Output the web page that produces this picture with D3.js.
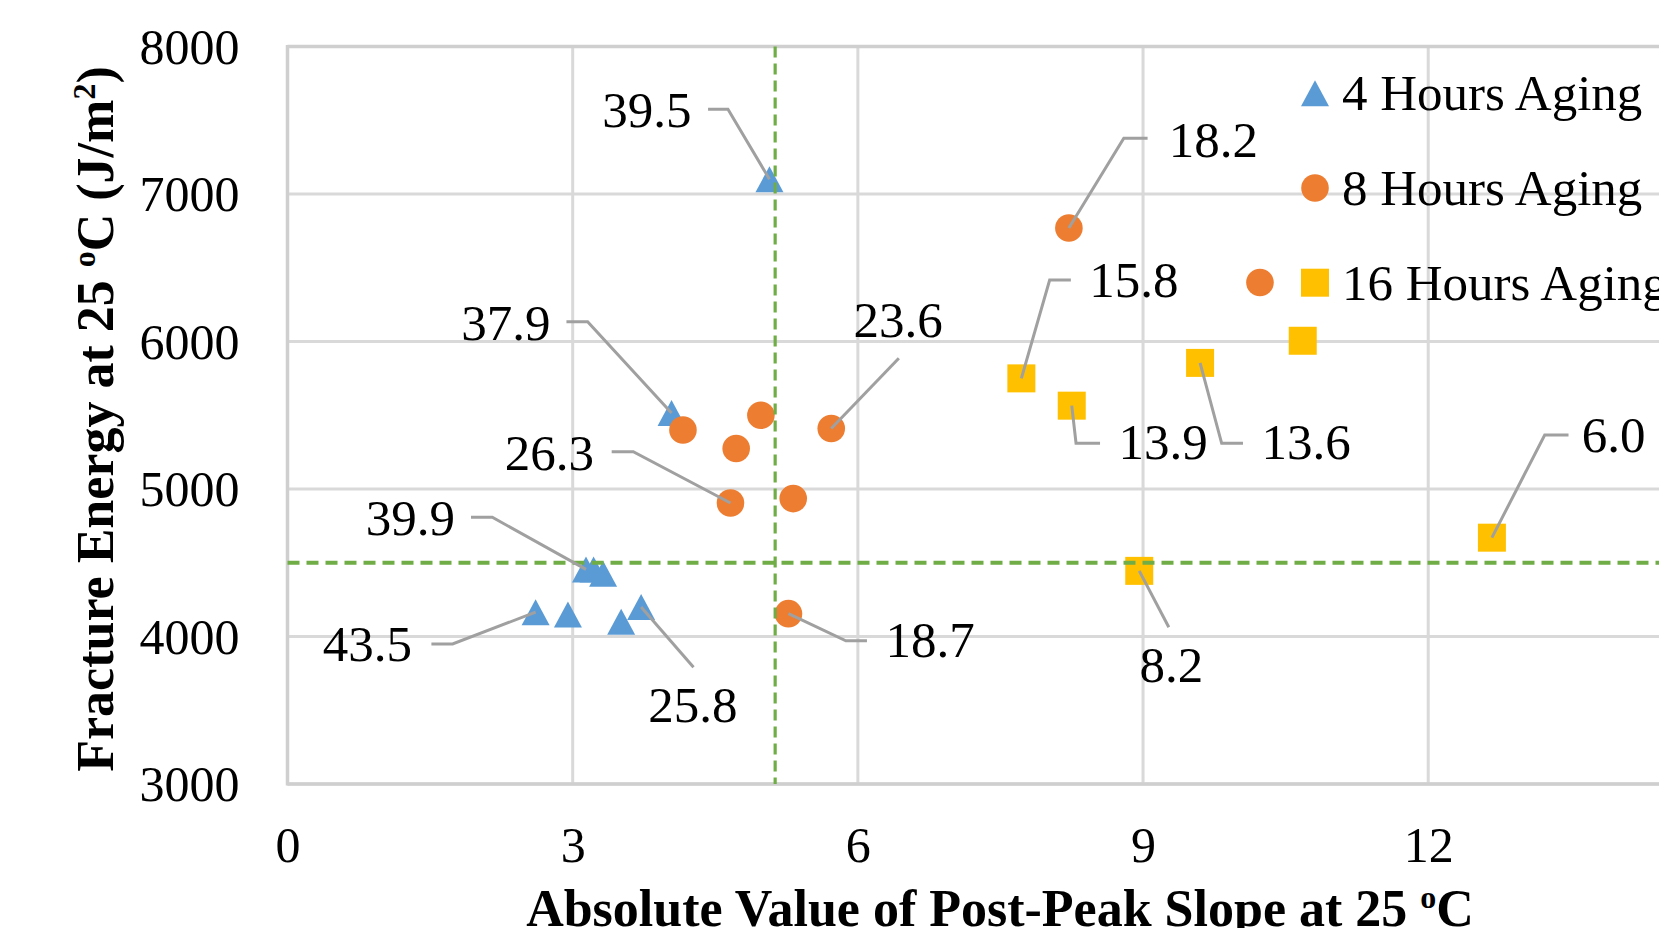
<!DOCTYPE html>
<html><head><meta charset="utf-8">
<script src="https://cdn.jsdelivr.net/npm/d3@7"></script>
<style>html,body{margin:0;padding:0;background:#fff;overflow:hidden}</style>
</head><body><svg id="chart" width="1659" height="928"></svg>
<script>
// ---------- data ----------
const seriesNames = ["4 Hours Aging", "8 Hours Aging", "16 Hours Aging"];
const slope4h  = [5.07, 4.04, 3.14, 3.22, 3.32, 2.61, 2.95, 3.51, 3.72];
const energy4h = [7100, 5515, 4455, 4455, 4425, 4165, 4150, 4100, 4200];
const labels4h = ["39.5", "37.9", "39.9", "", "", "43.5", "", "", "25.8"];
const slope8h  = [8.22, 4.16, 4.72, 4.98, 5.72, 4.66, 5.32, 5.27, 10.23];
const energy8h = [6770, 5400, 5275, 5500, 5410, 4905, 4935, 4155, 6400];
const labels8h = ["18.2", "", "", "", "23.6", "26.3", "", "18.7", ""];
const slope16h  = [7.72, 8.25, 9.60, 10.68, 8.96, 12.67];
const energy16h = [5750, 5565, 5855, 6005, 4445, 4670];
const labels16h = ["15.8", "13.9", "13.6", "", "8.2", "6.0"];
const xTicks = [0, 3, 6, 9, 12];
const xGrid = [0, 3, 6, 9, 12, 15];
const yTicks = [3000, 4000, 5000, 6000, 7000, 8000];
const thresholdSlope = 5.13;
const thresholdEnergy = 4500;
const xTitle = "Absolute Value of Post-Peak Slope at 25 ";
const yTitle = "Fracture Energy at 25 ";

// ---------- layout / style ----------
const plot = {left: 287.5, right: 1713.4, top: 46.5, bottom: 784};
const colors = ["#5b9bd5", "#ed7d31", "#ffc000"];
const shapes = ["triangle", "circle", "square"];
const FONT = "'Liberation Serif', 'Times New Roman', serif";

// label placement relative to its point (pixels)
const labelLayout = {
  "39.5": {anchor: "end",    tx: -78,  ty: -52,  leg: [[-41.5, -70], [-61.4, -70]]},
  "37.9": {anchor: "end",    tx: -121, ty: -73,  leg: [[-83.9, -91.3], [-105.1, -91.3]]},
  "39.9": {anchor: "end",    tx: -131, ty: -34.7, leg: [[-93.7, -52.1], [-115, -52.1]]},
  "43.5": {anchor: "end",    tx: -123.6, ty: 48.5, leg: [[-83, 31.8], [-104.2, 31.8]]},
  "25.8": {anchor: "middle", tx: 51.7, ty: 115.3, leg: [[52.4, 60.3]]},
  "26.3": {anchor: "end",    tx: -136.5, ty: -33, leg: [[-97.2, -51.3], [-118.8, -51.3]]},
  "23.6": {anchor: "middle", tx: 66.8, ty: -91.8, leg: [[67.6, -70.2]]},
  "18.7": {anchor: "start",  tx: 97.1, ty: 43.7, leg: [[57.4, 27.1], [78.5, 27.1]]},
  "18.2": {anchor: "start",  tx: 99.9, ty: -71.2, leg: [[54.9, -89.6], [78.7, -89.6]]},
  "15.8": {anchor: "start",  tx: 68,   ty: -81.7, leg: [[28.3, -98.4], [49.5, -98.4]]},
  "13.9": {anchor: "start",  tx: 46.8, ty: 53.6, leg: [[4.3, 37.6], [28.3, 37.6]]},
  "13.6": {anchor: "start",  tx: 61.3, ty: 96.4, leg: [[21.6, 80.4], [42.9, 80.4]]},
  "8.2":  {anchor: "middle", tx: 32.2, ty: 111.4, leg: [[29.6, 56.4]]},
  "6.0":  {anchor: "start",  tx: 89.8, ty: -86, leg: [[52.8, -102.7], [76.6, -102.7]]}
};

const svg = d3.select("#chart");
const x = d3.scaleLinear().domain([0, 15]).range([plot.left, plot.right]);
const y = d3.scaleLinear().domain([3000, 8000]).range([plot.bottom, plot.top]);

// gridlines
const grid = svg.append("g");
grid.selectAll("line.h").data(yTicks).join("line")
  .attr("x1", plot.left).attr("x2", plot.right)
  .attr("y1", d => y(d)).attr("y2", d => y(d))
  .attr("stroke", "#d9d9d9").attr("stroke-width", 3);
grid.selectAll("line.v").data(xGrid).join("line")
  .attr("y1", plot.top).attr("y2", plot.bottom)
  .attr("x1", d => x(d)).attr("x2", d => x(d))
  .attr("stroke", "#d9d9d9").attr("stroke-width", 3);
// axis lines
svg.append("line").attr("x1", x(0)).attr("x2", x(0)).attr("y1", plot.top - 1.5).attr("y2", plot.bottom + 1.5)
  .attr("stroke", "#cfcfcf").attr("stroke-width", 3.5);
svg.append("line").attr("x1", plot.left).attr("x2", plot.right).attr("y1", y(3000)).attr("y2", y(3000))
  .attr("stroke", "#cfcfcf").attr("stroke-width", 3.5);
svg.append("line").attr("x1", plot.left).attr("x2", plot.right).attr("y1", y(8000)).attr("y2", y(8000))
  .attr("stroke", "#cfcfcf").attr("stroke-width", 3.5);

// tick labels using d3 axes
const yAxis = svg.append("g").attr("transform", `translate(${plot.left},0)`)
  .call(d3.axisLeft(y).tickValues(yTicks).tickSize(0).tickPadding(48).tickFormat(d3.format("d")));
const xAxis = svg.append("g").attr("transform", `translate(0,${plot.bottom})`)
  .call(d3.axisBottom(x).tickValues(xTicks).tickSize(0).tickPadding(42).tickFormat(d3.format("d")));
[yAxis, xAxis].forEach(a => {
  a.select(".domain").remove();
  a.selectAll("text").attr("font-family", FONT).attr("font-size", 50).attr("fill", "#000");
});
yAxis.selectAll("text").attr("dy", "0.33em");
xAxis.selectAll("text").attr("dy", "0.71em");

// markers
function symbolPath(shape) {
  if (shape === "triangle") return "M0,-13 L14,13 L-14,13 Z";
  if (shape === "square") return "M-14,-14 H14 V14 H-14 Z";
  return d3.symbol().type(d3.symbolCircle).size(Math.PI * 13.8 * 13.8)();
}
const series = [
  {xs: slope4h, ys: energy4h, ls: labels4h},
  {xs: slope8h, ys: energy8h, ls: labels8h},
  {xs: slope16h, ys: energy16h, ls: labels16h}
];
const points = [];
series.forEach((s, si) => s.xs.forEach((v, i) => points.push({x: v, y: s.ys[i], label: s.ls[i], si})));

svg.append("g").selectAll("path").data(points).join("path")
  .attr("d", d => symbolPath(shapes[d.si]))
  .attr("transform", d => `translate(${x(d.x)},${y(d.y)})`)
  .attr("fill", d => colors[d.si]);

// threshold dashed lines
svg.append("line").attr("x1", x(thresholdSlope)).attr("x2", x(thresholdSlope))
  .attr("y1", plot.top).attr("y2", plot.bottom)
  .attr("stroke", "#70ad47").attr("stroke-width", 3.2).attr("stroke-dasharray", "11,6");
svg.append("line").attr("x1", plot.left).attr("x2", plot.right)
  .attr("y1", y(thresholdEnergy)).attr("y2", y(thresholdEnergy))
  .attr("stroke", "#70ad47").attr("stroke-width", 3.8).attr("stroke-dasharray", "12,7");

// leader lines and data labels
const labeled = points.filter(d => d.label && labelLayout[d.label]);
svg.append("g").selectAll("polyline").data(labeled).join("polyline")
  .attr("points", d => {
    const px = x(d.x), py = y(d.y), L = labelLayout[d.label];
    return [[px, py]].concat(L.leg.map(p => [px + p[0], py + p[1]])).map(p => p.join(",")).join(" ");
  })
  .attr("fill", "none").attr("stroke", "#a0a0a0").attr("stroke-width", 3);
svg.append("g").selectAll("text").data(labeled).join("text")
  .attr("x", d => x(d.x) + labelLayout[d.label].tx)
  .attr("y", d => y(d.y) + labelLayout[d.label].ty)
  .attr("text-anchor", d => labelLayout[d.label].anchor)
  .attr("font-family", FONT).attr("font-size", 51).attr("fill", "#000")
  .text(d => d.label);

// legend
const legend = svg.append("g").attr("transform", "translate(1315,93.3)");
const li = legend.selectAll("g").data(seriesNames).join("g")
  .attr("transform", (d, i) => `translate(0,${i * 94.7})`);
li.append("path").attr("d", (d, i) => symbolPath(shapes[i])).attr("fill", (d, i) => colors[i]);
li.append("text").attr("x", 27).attr("y", 17).attr("font-family", FONT).attr("font-size", 51)
  .attr("fill", "#000").text(d => d);

// axis titles
const yt = svg.append("text").attr("transform", `translate(113,419) rotate(-90)`)
  .attr("text-anchor", "middle").attr("font-family", FONT).attr("font-weight", "bold")
  .attr("font-size", 52).attr("fill", "#000");
yt.append("tspan").text(yTitle);
yt.append("tspan").attr("font-size", 32).attr("dy", -18).text("o");
yt.append("tspan").attr("dy", 18).text("C (J/m");
yt.append("tspan").attr("font-size", 32).attr("dy", -18).text("2");
yt.append("tspan").attr("dy", 18).text(")");

const xt = svg.append("text").attr("x", 1000).attr("y", 926)
  .attr("text-anchor", "middle").attr("font-family", FONT).attr("font-weight", "bold")
  .attr("font-size", 52).attr("fill", "#000");
xt.append("tspan").text(xTitle);
xt.append("tspan").attr("font-size", 32).attr("dy", -18).text("o");
xt.append("tspan").attr("dy", 18).text("C");
</script>
</body></html>
